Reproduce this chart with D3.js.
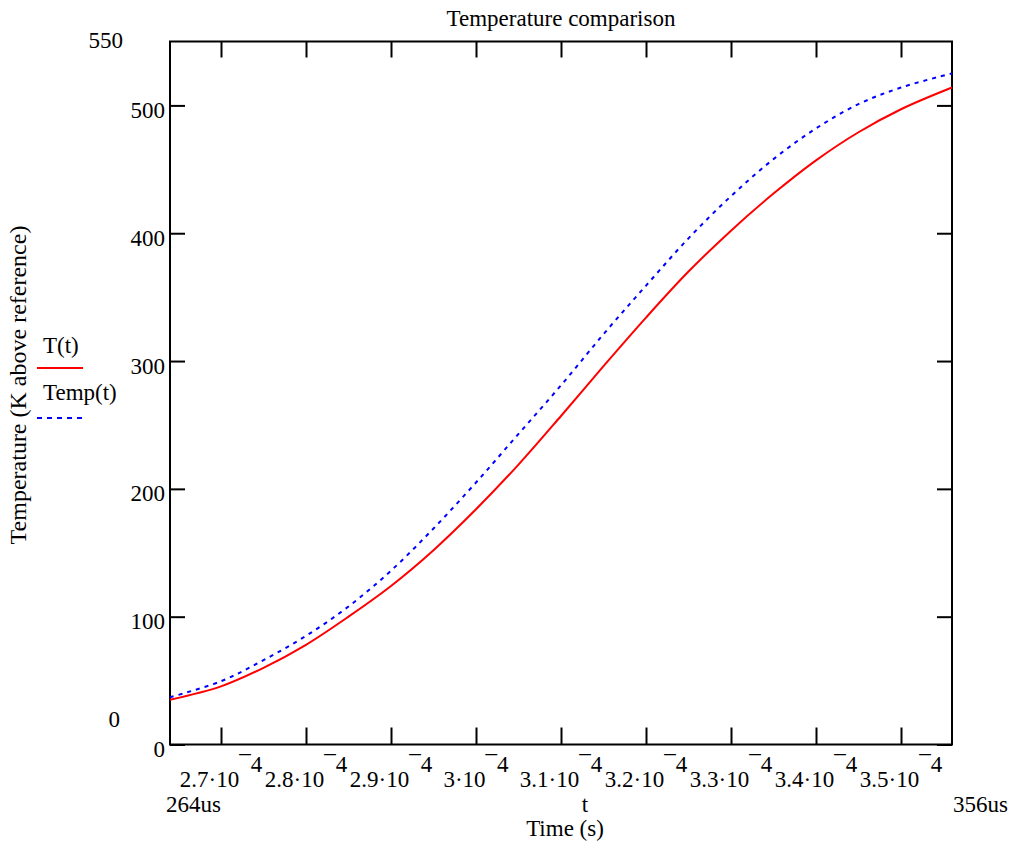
<!DOCTYPE html>
<html>
<head>
<meta charset="utf-8">
<script src="https://cdn.jsdelivr.net/npm/d3@7"></script>
<style>
  body { margin: 0; background: #fff; }
  svg text { font-family: "Liberation Serif", "Times New Roman", serif; fill: #000; }
</style>
</head>
<body>
<div id="chart"></div>
<script>
// time in microseconds
const timeUs = [264, 270, 275, 280, 285, 290, 295, 300, 305, 310, 315, 320, 325, 330, 335, 340, 345, 350, 356];
// T(t), red solid
const seriesT = [35, 45.5, 60, 78, 100, 124, 152, 184, 219, 257, 296, 334, 370, 402, 431, 457, 479, 497, 514];
// Temp(t), blue dotted
const seriesTemp = [37, 49.5, 66, 85, 108, 136, 169, 205, 243, 281, 321, 359, 396, 429, 458, 482, 501, 514, 525];

const xTickValues = [270, 280, 290, 300, 310, 320, 330, 340, 350];
const xTickMantissa = ["2.7", "2.8", "2.9", "3", "3.1", "3.2", "3.3", "3.4", "3.5"];
const yTickValues = [0, 100, 200, 300, 400, 500];

const width = 1011, height = 851;
const plot = { left: 170, right: 952, top: 41.5, bottom: 744.5 };
const fs = 23;

const svg = d3.select("#chart").append("svg")
  .attr("width", width)
  .attr("height", height)
  .attr("font-family", "Liberation Serif");

const x = d3.scaleLinear().domain([264, 356]).range([plot.left, plot.right]);
const y = d3.scaleLinear().domain([0, 550]).range([plot.bottom, plot.top]);

// axes with inward ticks
const styleAxis = g => {
  g.select(".domain").remove();
  g.selectAll(".tick line").attr("stroke", "#000").attr("stroke-width", 2);
};

svg.append("g")
  .attr("transform", `translate(0,${plot.bottom})`)
  .call(d3.axisBottom(x).tickValues(xTickValues).tickSizeInner(-17).tickSizeOuter(0).tickFormat(() => ""))
  .call(styleAxis);

svg.append("g")
  .attr("transform", `translate(0,${plot.top})`)
  .call(d3.axisTop(x).tickValues(xTickValues).tickSizeInner(-16).tickSizeOuter(0).tickFormat(() => ""))
  .call(styleAxis);

svg.append("g")
  .attr("transform", `translate(${plot.left},0)`)
  .call(d3.axisLeft(y).tickValues(yTickValues).tickSizeInner(-15).tickSizeOuter(0).tickPadding(5))
  .call(styleAxis)
  .call(g => g.selectAll(".tick text")
    .attr("font-size", fs)
    .attr("font-family", "Liberation Serif")
    .attr("dy", "0.52em"));

svg.append("g")
  .attr("transform", `translate(${plot.right},0)`)
  .call(d3.axisRight(y).tickValues(yTickValues).tickSizeInner(-15).tickSizeOuter(0).tickFormat(() => ""))
  .call(styleAxis);

// frame
svg.append("rect")
  .attr("x", plot.left)
  .attr("y", plot.top)
  .attr("width", plot.right - plot.left)
  .attr("height", plot.bottom - plot.top)
  .attr("fill", "none")
  .attr("stroke", "#000")
  .attr("stroke-width", 2);

// x tick labels like 2.7·10¯4
xTickValues.forEach((v, i) => {
  const t = svg.append("text")
    .attr("x", x(v))
    .attr("y", 787)
    .attr("text-anchor", "middle")
    .attr("font-size", fs);
  t.append("tspan").text(xTickMantissa[i] + "\u00b710");
  t.append("tspan").attr("dy", -15).text("\u00af4");
});

// axis limits
svg.append("text").attr("x", 123).attr("y", 48).attr("text-anchor", "end").attr("font-size", fs).text("550");
svg.append("text").attr("x", 120).attr("y", 727).attr("text-anchor", "end").attr("font-size", fs).text("0");

svg.append("text").attr("x", 166).attr("y", 812).attr("font-size", fs).text("264us");
svg.append("text").attr("x", 953).attr("y", 812).attr("font-size", fs).text("356us");

svg.append("text").attr("x", 585).attr("y", 812).attr("text-anchor", "middle").attr("font-size", fs).text("t");
svg.append("text").attr("x", 565).attr("y", 836).attr("text-anchor", "middle").attr("font-size", fs).text("Time (s)");

svg.append("text").attr("x", 561).attr("y", 26).attr("text-anchor", "middle").attr("font-size", fs).text("Temperature comparison");

svg.append("text")
  .attr("transform", "translate(26,385) rotate(-90)")
  .attr("text-anchor", "middle")
  .attr("font-size", 24)
  .text("Temperature (K above reference)");

// curves
const line = (vals) => d3.line()
  .x((d, i) => x(timeUs[i]))
  .y(d => y(d))
  .curve(d3.curveCatmullRom)(vals);

svg.append("path")
  .attr("d", line(seriesTemp))
  .attr("fill", "none")
  .attr("stroke", "#0000ff")
  .attr("stroke-width", 2)
  .attr("stroke-dasharray", "4,5");

svg.append("path")
  .attr("d", line(seriesT))
  .attr("fill", "none")
  .attr("stroke", "#ff0000")
  .attr("stroke-width", 2);

// legend
svg.append("text").attr("x", 43).attr("y", 353).attr("font-size", fs).text("T(t)");
svg.append("line").attr("x1", 37).attr("x2", 83).attr("y1", 368).attr("y2", 368)
  .attr("stroke", "#ff0000").attr("stroke-width", 2);
svg.append("text").attr("x", 43).attr("y", 400).attr("font-size", fs).text("Temp(t)");
svg.append("line").attr("x1", 37).attr("x2", 83).attr("y1", 418).attr("y2", 418)
  .attr("stroke", "#0000ff").attr("stroke-width", 2).attr("stroke-dasharray", "5,5");
</script>
</body>
</html>
